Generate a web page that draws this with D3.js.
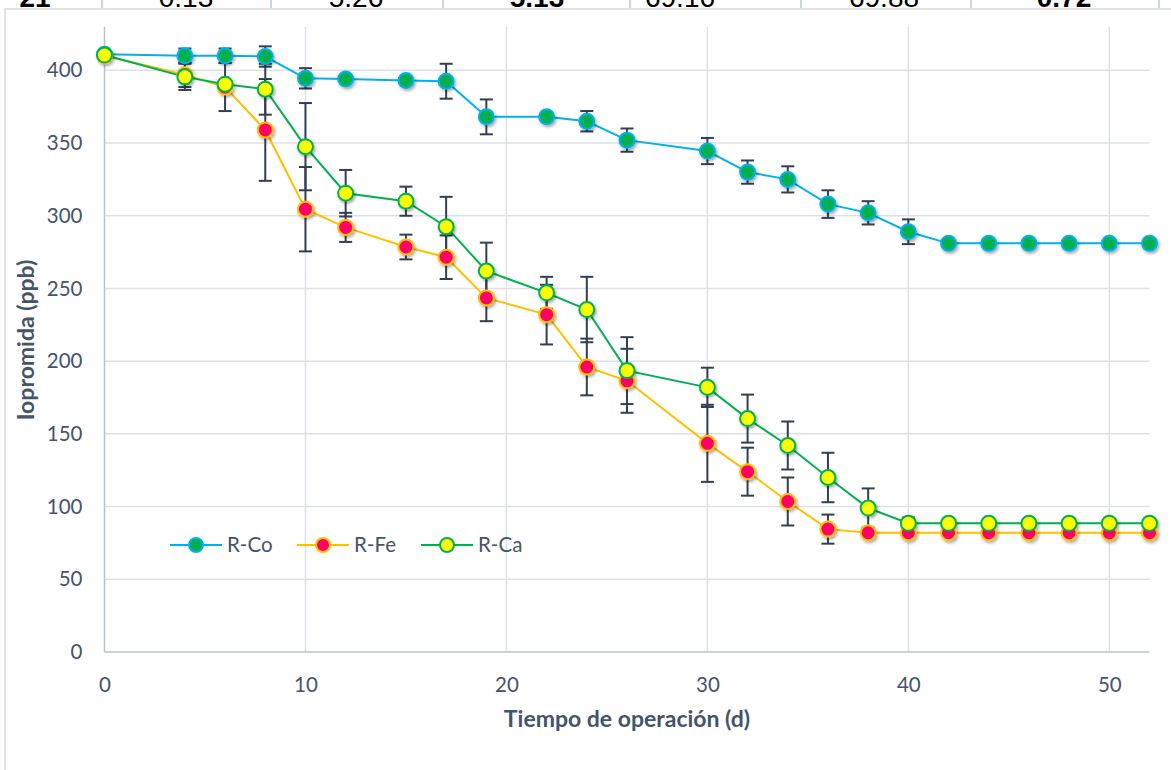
<!DOCTYPE html>
<html>
<head>
<meta charset="utf-8">
<script src="https://cdn.jsdelivr.net/npm/d3@7"></script>
<style>
  html, body { margin: 0; padding: 0; background: #ffffff; }
  svg { display: block; }
</style>
</head>
<body>
<svg id="chart" width="1171" height="770"></svg>
<script>
// ---------- data ----------
const days = [0, 4, 6, 8, 10, 12, 15, 17, 19, 22, 24, 26, 30, 32, 34, 36, 38, 40, 42, 44, 46, 48, 50, 52];

const coValues = [411, 410, 410, 409.5, 394.5, 394, 393, 392.5, 368, 368, 365, 352, 344.5, 330, 325, 308, 302, 289, 281, 281, 281, 281, 281, 281];
const coErrors = [0, 5, 5, 7, 7, 0, 0, 12, 12, 0, 7, 8, 9, 8, 9, 9.5, 8, 8.5, 0, 0, 0, 0, 0, 0];

const feValues = [410, 397, 388.5, 359, 304.5, 292, 278.5, 271.5, 243.5, 232, 196, 186.5, 143.5, 124, 103.5, 84.5, 82, 82, 82, 82, 82, 82, 82, 82];
const feErrors = [0, 8.5, 16.5, 35, 29, 10, 8.5, 15, 16, 20.5, 19.5, 22, 26.5, 16.5, 16.5, 10, 0, 0, 0, 0, 0, 0, 0, 0];

const caValues = [410.5, 395.5, 390.5, 387, 347.5, 315.5, 310, 292.5, 262, 247, 235.5, 193.5, 182, 160.5, 142, 120, 99, 88.5, 88.5, 88.5, 88.5, 88.5, 88.5, 88.5];
const caErrors = [0, 9, 2, 17.5, 30, 16, 10, 20.5, 19.5, 11, 22.5, 23, 13.5, 16.5, 16.5, 17, 13.5, 4, 0, 0, 0, 0, 0, 0];

const seriesNames = ["R-Co", "R-Fe", "R-Ca"];
const xTicks = [0, 10, 20, 30, 40, 50];
const yTicks = [0, 50, 100, 150, 200, 250, 300, 350, 400];
const xTitle = "Tiempo de operación (d)";
const yTitle = "Iopromida (ppb)";

// cropped table row visible at the very top of the picture
const tableCells = ["21", "0.13", "5.26", "5.13", "69.16", "69.88", "0.72"];
const tableBold = [true, false, false, true, false, false, true];

// ---------- styles ----------
const styles = [
  { line: "#00b0f0", fill: "#00b050", stroke: "#00b0f0" },
  { line: "#ffc000", fill: "#ff0066", stroke: "#ffc000" },
  { line: "#00b050", fill: "#ffff00", stroke: "#00b050" }
];
const textColor = "#44546a";
const font = "Lato, 'Open Sans', sans-serif";

const svg = d3.select("#chart");

const defs = svg.append("defs");
const f = defs.append("filter").attr("id", "shadow")
  .attr("x", "-50%").attr("y", "-50%").attr("width", "200%").attr("height", "200%");
f.append("feDropShadow").attr("dx", 1.5).attr("dy", 2).attr("stdDeviation", 1.4)
  .attr("flood-color", "#000").attr("flood-opacity", 0.35);

// ---------- cropped table strip ----------
const tableSep = [102, 271, 443, 630, 801, 971, 1159];
const tableCenters = [35, 186, 356, 537, 680, 884, 1064];
const tg = svg.append("g");
tableSep.forEach(x => tg.append("line").attr("x1", x).attr("x2", x).attr("y1", 0).attr("y2", 8)
  .attr("stroke", "#b4cbe6").attr("stroke-width", 1.5));
defs.append("clipPath").attr("id", "topclip").append("rect").attr("x", 0).attr("y", 0).attr("width", 1171).attr("height", 7.5);
const tt = tg.append("g").attr("clip-path", "url(#topclip)");
tableCells.forEach((t, i) => {
  tt.append("text").attr("x", tableCenters[i]).attr("y", 7)
    .attr("text-anchor", "middle")
    .attr("font-family", "'Liberation Sans Narrow', 'Liberation Sans', Arial, sans-serif")
    .attr("font-size", 28).attr("font-weight", tableBold[i] ? "bold" : "normal")
    .attr("fill", "#000").text(t);
});

// chart border
svg.append("rect").attr("x", 5).attr("y", 9).attr("width", 1200).attr("height", 800)
  .attr("fill", "none").attr("stroke", "#d9d9d9").attr("stroke-width", 1.5);

// ---------- scales ----------
const x = d3.scaleLinear().domain([0, 52]).range([104.5, 1149.5]);
const y = d3.scaleLinear().domain([0, 430]).range([652, 26.7]);

// gridlines
const grid = svg.append("g");
grid.selectAll("line.h").data(yTicks.filter(d => d > 0)).enter().append("line")
  .attr("x1", x(0)).attr("x2", x(52)).attr("y1", d => y(d)).attr("y2", d => y(d))
  .attr("stroke", "#dde1e7").attr("stroke-width", 1.5);
grid.selectAll("line.v").data(xTicks.filter(d => d > 0)).enter().append("line")
  .attr("x1", d => x(d)).attr("x2", d => x(d)).attr("y1", y(0)).attr("y2", y(430))
  .attr("stroke", "#dde1e7").attr("stroke-width", 1.5);

// axes
const xAxis = svg.append("g").attr("transform", `translate(0,${y(0)})`)
  .call(d3.axisBottom(x).tickValues(xTicks).tickSize(0).tickPadding(25));
const yAxis = svg.append("g").attr("transform", `translate(${x(0)},0)`)
  .call(d3.axisLeft(y).tickValues(yTicks).tickSize(0).tickPadding(22));
[xAxis, yAxis].forEach(a => {
  a.select(".domain").attr("stroke", "#b9c1cd").attr("stroke-width", 1.5);
  a.selectAll("text").attr("font-family", font).attr("font-size", 20.5).attr("fill", textColor);
});
yAxis.select(".domain").attr("d", `M0,${y(0)}V${y(430)}`);
xAxis.select(".domain").attr("d", `M${x(0)},0H${x(52)}`);

// axis titles
svg.append("text").attr("x", 627).attr("y", 727).attr("text-anchor", "middle")
  .attr("font-family", font).attr("font-size", 23).attr("font-weight", "bold")
  .attr("fill", textColor).text(xTitle);
svg.append("text").attr("transform", `translate(34,340) rotate(-90)`).attr("text-anchor", "middle")
  .attr("font-family", font).attr("font-size", 23).attr("font-weight", "bold")
  .attr("fill", textColor).text(yTitle);

// ---------- series ----------
const allValues = [coValues, feValues, caValues];
const allErrors = [coErrors, feErrors, caErrors];
const series = allValues.map((vals, s) => days.map((d, i) => ({ d, v: vals[i], e: allErrors[s][i] })));

const lineGen = d3.line().x(p => x(p.d)).y(p => y(p.v));
const gLines = svg.append("g");
series.forEach((pts, s) => {
  gLines.append("path").datum(pts).attr("d", lineGen)
    .attr("fill", "none").attr("stroke", styles[s].line).attr("stroke-width", 2);
});

const gErr = svg.append("g").attr("stroke", "#333f50").attr("stroke-width", 2);
const cap = 6.5;
series.forEach(pts => {
  pts.filter(p => p.e > 0).forEach(p => {
    const cx = x(p.d), y1 = y(p.v + p.e), y2 = y(p.v - p.e);
    gErr.append("line").attr("x1", cx).attr("x2", cx).attr("y1", y1).attr("y2", y2);
    gErr.append("line").attr("x1", cx - cap).attr("x2", cx + cap).attr("y1", y1).attr("y2", y1);
    gErr.append("line").attr("x1", cx - cap).attr("x2", cx + cap).attr("y1", y2).attr("y2", y2);
  });
});

const gMarks = svg.append("g").attr("filter", "url(#shadow)");
series.forEach((pts, s) => {
  gMarks.append("g").selectAll("circle").data(pts).enter().append("circle")
    .attr("cx", p => x(p.d)).attr("cy", p => y(p.v)).attr("r", 7.5)
    .attr("fill", styles[s].fill).attr("stroke", styles[s].stroke).attr("stroke-width", 2);
});

// ---------- legend ----------
const legendX = [170, 297, 421];
const legendY = 545;
const lg = svg.append("g");
seriesNames.forEach((name, s) => {
  const x0 = legendX[s];
  lg.append("line").attr("x1", x0).attr("x2", x0 + 52).attr("y1", legendY).attr("y2", legendY)
    .attr("stroke", styles[s].line).attr("stroke-width", 2);
  lg.append("circle").attr("cx", x0 + 26).attr("cy", legendY).attr("r", 7)
    .attr("fill", styles[s].fill).attr("stroke", styles[s].stroke).attr("stroke-width", 2);
  lg.append("text").attr("x", x0 + 57).attr("y", legendY).attr("dy", "0.35em")
    .attr("font-family", font).attr("font-size", 20.5).attr("fill", textColor).text(name);
});
</script>
</body>
</html>
